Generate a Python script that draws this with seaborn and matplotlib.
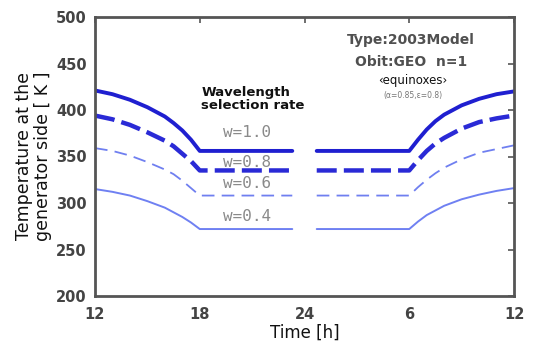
import numpy as np
import pandas as pd
import matplotlib
matplotlib.use("Agg")
import matplotlib.pyplot as plt
import seaborn as sns

# Time axis (hours, 12 -> 36 == noon to next noon); eclipse-side plateau split around midnight
hours_left = [12, 13, 14, 15, 16, 16.5, 17, 17.5, 18, 23.3]
hours_right = [24.7, 30, 30.5, 31, 31.5, 32, 33, 34, 35, 36]

rates = ["w=1.0", "w=0.8", "w=0.6", "w=0.4"]
temp_left = {
    "w=1.0": [421, 417, 411, 403, 393, 386, 378, 368, 356, 356],
    "w=0.8": [394, 390, 384, 376, 367, 361, 353, 345, 335, 335],
    "w=0.6": [359, 356, 351, 344, 336, 331, 324, 316, 308, 308],
    "w=0.4": [315, 312, 308, 302, 295, 290, 285, 279, 272, 272],
}
temp_right = {
    "w=1.0": [356, 356, 368, 379, 388, 395, 405, 412, 417, 420],
    "w=0.8": [335, 335, 346, 356, 364, 370, 380, 387, 391, 394],
    "w=0.6": [308, 308, 317, 325, 332, 338, 347, 354, 358, 362],
    "w=0.4": [272, 272, 280, 287, 292, 297, 304, 309, 313, 316],
}
label_pos = {"w=1.0": 376, "w=0.8": 344, "w=0.6": 321, "w=0.4": 286}

x_ticks = [12, 18, 24, 30, 36]
x_ticklabels = ["12", "18", "24", "6", "12"]
y_ticks = [200, 250, 300, 350, 400, 450, 500]

styles = {
    "w=1.0": dict(color="#1f1fd0", lw=2.8, ls="-"),
    "w=0.8": dict(color="#2a2ad6", lw=3.2, ls=(0, (4.5, 1.6))),
    "w=0.6": dict(color="#6f7ff0", lw=1.3, ls=(0, (7, 4))),
    "w=0.4": dict(color="#6f80f2", lw=1.4, ls="-"),
}

sns.set_style("white")
plt.rcParams["font.family"] = ["DejaVu Sans"]

fig = plt.figure(figsize=(5.41, 3.54), dpi=100)
ax = fig.add_axes([95 / 541, 1 - 296 / 354, 419 / 541, 279 / 354])

for r in rates:
    st = styles[r]
    for xs, ys in ((hours_left, temp_left[r]), (hours_right, temp_right[r])):
        df = pd.DataFrame({"time": xs, "temp": ys})
        sns.lineplot(data=df, x="time", y="temp", ax=ax, color=st["color"],
                     linewidth=st["lw"], linestyle=st["ls"], sort=False,
                     estimator=None)
    ax.text(20.7, label_pos[r], r, ha="center", va="center", fontsize=11.5,
            color="#8a8a8a", family="DejaVu Sans Mono")

ax.text(18.1, 412, "Wavelength\nselection rate", ha="left", va="center",
        fontsize=9.5, fontweight="bold", color="#111111", linespacing=1.05)

ax.text(30.1, 475, "Type:2003Model", ha="center", va="center", fontsize=10,
        fontweight="bold", color="#505050")
ax.text(30.1, 452, "Obit:GEO  n=1", ha="center", va="center", fontsize=10,
        fontweight="bold", color="#505050")
ax.text(30.2, 432, "\u2039equinoxes\u203a", ha="center", va="center", fontsize=8.5,
        color="#111111")
ax.text(30.2, 416, "(\u03b1=0.85,\u03b5=0.8)", ha="center", va="center", fontsize=5.5,
        color="#777777")

ax.set_xlim(12, 36)
ax.set_ylim(200, 500)
ax.set_xticks(x_ticks)
ax.set_xticklabels(x_ticklabels)
ax.set_yticks(y_ticks)
ax.tick_params(direction="in", length=4, width=1.2, color="#555555",
               top=True, right=True, labelsize=10.5, labelcolor="#444444")
for lab in ax.get_xticklabels() + ax.get_yticklabels():
    lab.set_fontweight("bold")
ax.tick_params(axis="x", pad=8)
ax.tick_params(axis="y", pad=6)
for sp in ax.spines.values():
    sp.set_color("#555555")
    sp.set_linewidth(2)

ax.set_xlabel("Time [h]", fontsize=12, color="#111111", labelpad=1)
ax.set_ylabel("Temperature at the\ngenerator side [ K ]", fontsize=12.5,
              color="#111111", labelpad=3, linespacing=1.05)

fig.savefig("out.png", dpi=100)
